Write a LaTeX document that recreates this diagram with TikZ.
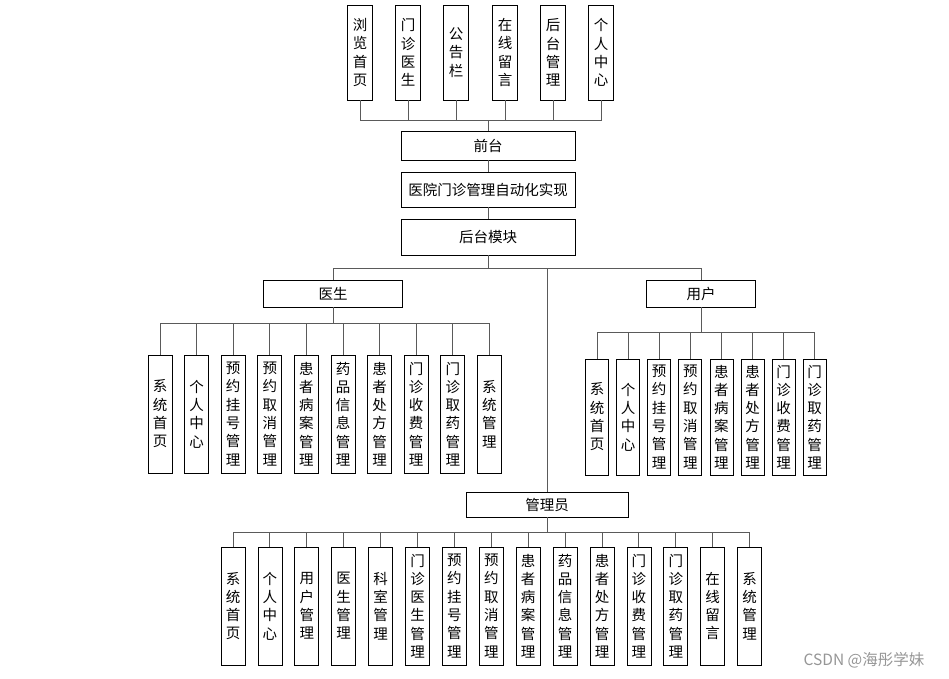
\documentclass[tikz,border=0pt]{standalone}
\usepackage{fontspec}
\setmainfont{Noto Sans CJK SC}
\definecolor{connc}{RGB}{90,90,90}
\definecolor{wmc}{RGB}{150,150,150}
\begin{document}
\begin{tikzpicture}[x=1pt,y=-1pt,
  box/.style={draw=black,line width=0.8pt,inner sep=0pt,align=center,
    font=\fontsize{14.5}{18.3}\selectfont},
  vbox/.style={box,minimum width=24pt,minimum height=118pt},
  hbox/.style={box},
  conn/.style={draw=connc,line width=0.9pt}]
\useasboundingbox (0,0) rectangle (949,678);
% top row
\foreach \x/\t [count=\i] in {360/浏\\览\\首\\页,408/门\\诊\\医\\生,456/公\\告\\栏,505/在\\线\\留\\言,553/后\\台\\管\\理,601/个\\人\\中\\心}
  \node[box,minimum width=25pt,minimum height=95pt] (t\i) at (\x,52.5) {\t};
\node[hbox,minimum width=174pt,minimum height=29pt] (qt) at (488,145.5) {前台};
\node[hbox,minimum width=174pt,minimum height=35pt] (sys) at (488,189.5) {医院门诊管理自动化实现};
\node[hbox,minimum width=174pt,minimum height=36pt] (ht) at (488,237) {后台模块};
\coordinate (topbus) at (488,120);
\foreach \i in {1,...,6} \draw[conn] (qt.north) -- (topbus) -| (t\i.south);
\draw[conn] (qt.south) -- (sys.north);
\draw[conn] (sys.south) -- (ht.north);
% second level
\node[hbox,minimum width=139pt,minimum height=27pt] (doc) at (333,293.5) {医生};
\node[hbox,minimum width=109pt,minimum height=27pt] (usr) at (701,293.5) {用户};
\node[hbox,minimum width=162pt,minimum height=25pt] (adm) at (547,504.5) {管理员};
\coordinate (hbus) at (488,268);
\draw[conn] (ht.south) -- (hbus) -| (doc.north);
\draw[conn] (hbus) -| (usr.north);
\draw[conn] (hbus) -| (adm.north);
% doctor children
\foreach \t [count=\i from 0] in {系\\统\\首\\页,个\\人\\中\\心,预\\约\\挂\\号\\管\\理,预\\约\\取\\消\\管\\理,患\\者\\病\\案\\管\\理,药\\品\\信\\息\\管\\理,患\\者\\处\\方\\管\\理,门\\诊\\收\\费\\管\\理,门\\诊\\取\\药\\管\\理,系\\统\\管\\理}
  \node[vbox] (dk\i) at ({160+36.6*\i},414) {\t};
\coordinate (dbus) at (333,323);
\foreach \i in {0,...,9} \draw[conn] (doc.south) -- (dbus) -| (dk\i.north);
% user children
\foreach \t [count=\i from 0] in {系\\统\\首\\页,个\\人\\中\\心,预\\约\\挂\\号\\管\\理,预\\约\\取\\消\\管\\理,患\\者\\病\\案\\管\\理,患\\者\\处\\方\\管\\理,门\\诊\\收\\费\\管\\理,门\\诊\\取\\药\\管\\理}
  \node[vbox,minimum width=23pt,minimum height=116pt] (uk\i) at ({597+31.1*\i},417) {\t};
\coordinate (ubus) at (701,332);
\foreach \i in {0,...,7} \draw[conn] (usr.south) -- (ubus) -| (uk\i.north);
% admin children
\foreach \t [count=\i from 0] in {系\\统\\首\\页,个\\人\\中\\心,用\\户\\管\\理,医\\生\\管\\理,科\\室\\管\\理,门\\诊\\医\\生\\管\\理,预\\约\\挂\\号\\管\\理,预\\约\\取\\消\\管\\理,患\\者\\病\\案\\管\\理,药\\品\\信\\息\\管\\理,患\\者\\处\\方\\管\\理,门\\诊\\收\\费\\管\\理,门\\诊\\取\\药\\管\\理,在\\线\\留\\言,系\\统\\管\\理}
  \node[vbox] (ak\i) at ({233+36.9*\i},606) {\t};
\coordinate (abus) at (547,532);
\foreach \i in {0,...,14} \draw[conn] (adm.south) -- (abus) -| (ak\i.north);
% watermark
\node[text=wmc,font=\fontsize{15.5}{17}\selectfont,inner sep=0pt] (wm) at (864,660) {CSDN @海彤学妹};
\end{tikzpicture}
\end{document}
